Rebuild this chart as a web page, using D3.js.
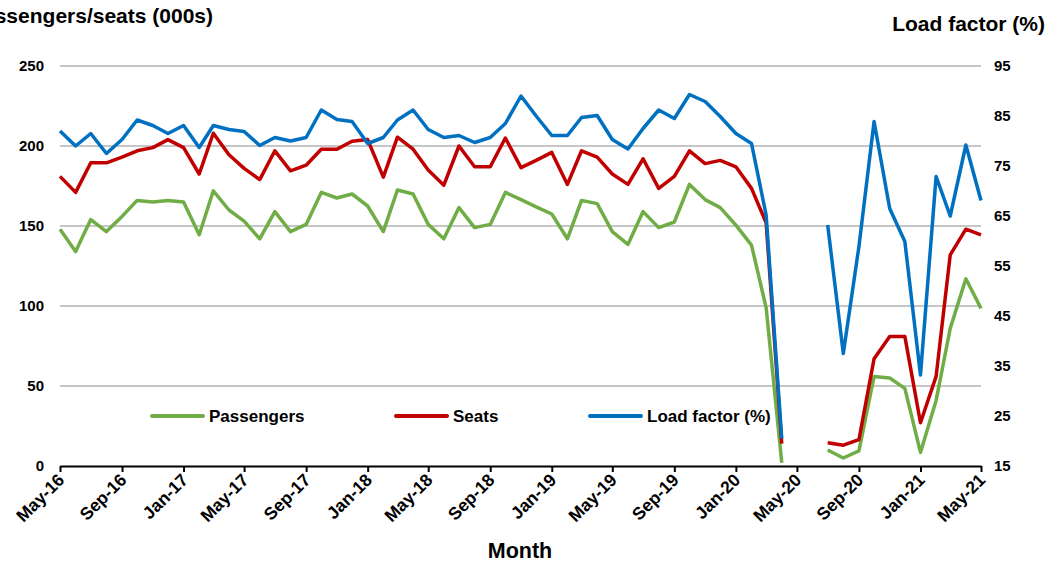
<!DOCTYPE html>
<html><head><meta charset="utf-8">
<script src="https://cdn.jsdelivr.net/npm/d3@7"></script>
<style>
body{margin:0;background:#fff;}
svg{display:block;font-family:"Liberation Sans",Arial,sans-serif;font-weight:bold;}
</style></head>
<body><svg id="c" width="1051" height="564"></svg>
<script>
// ---- data (May-16 .. May-21, monthly; null = no data) ----
const startMonth = "2016-05";
const endMonth = "2021-05";
const passengers = [148,134,154,146.5,156,166,165,166,165,144.5,172,160,153,142,159,146.5,151,171,167.5,170,
  162.5,146.5,172.5,170,151,142,161.5,149,151,171,166.5,162,157.5,142,166,164,146.5,138.5,159,149,
  152.5,176,166.5,161.5,150.5,138,99,2,null,null,10,5,9.5,56,55,48.5,8.5,41,86,117,98.5];
const seats = [181,171,189.5,189.5,193,197,199,204,199,182.5,208,194.5,186,179,197,184.5,188,198,198,203,
  204,180.5,205.5,198,185,175.5,200,187,187,205,186.5,191,196,176,197,193,182.5,176,192,173.5,
  181,197,189,191,187,173.5,152,14,null,null,14.5,13,16.5,67,81,81,27,56,132,148,144.5];
const loadFactor = [82,79,81.5,77.5,80.3,84.2,83.1,81.5,83.1,78.7,83.1,82.3,81.9,79.1,80.7,80,80.7,86.2,84.3,83.9,
  79.5,80.7,84.2,86.2,82.3,80.7,81.1,79.7,80.7,83.5,89,85,81.1,81.1,84.7,85.1,80.3,78.4,82.5,86.2,
  84.5,89.3,87.9,84.9,81.5,79.5,65.2,20.5,null,null,63.2,37.5,58.9,83.9,66.5,59.9,33.2,72.9,65,79.2,68.1];
const leftTicks = [0,50,100,150,200,250];
const rightTicks = [15,25,35,45,55,65,75,85,95];
const seriesNames = ["Passengers","Seats","Load factor (%)"];
const seriesColors = ["#70ad47","#c00000","#0070c0"];

// ---- layout ----
const L = 60, R = 981, T = 66, B = 466;
const svg = d3.select("#c");
const parse = d3.timeParse("%Y-%m");
const t0 = parse(startMonth), t1 = parse(endMonth);
const months = d3.timeMonth.range(t0, d3.timeMonth.offset(t1, 1));

const x = d3.scaleTime().domain([t0, t1]).range([L, R]);
const yL = d3.scaleLinear().domain([0, 250]).range([B, T]);
const yR = d3.scaleLinear().domain([15, 95]).range([B, T]);

// gridlines
svg.append("g").selectAll("line").data(leftTicks.filter(d => d > 0)).join("line")
  .attr("x1", L).attr("x2", R).attr("y1", d => yL(d)).attr("y2", d => yL(d))
  .attr("stroke", "#c6c6c6").attr("stroke-width", 2);

// left axis labels
svg.append("g").selectAll("text").data(leftTicks).join("text")
  .attr("x", 44).attr("y", d => yL(d)).attr("dy", "0.36em")
  .attr("text-anchor", "end").attr("font-size", 15).text(d => d);

// right axis labels
svg.append("g").selectAll("text").data(rightTicks).join("text")
  .attr("x", 994).attr("y", d => yR(d)).attr("dy", "0.36em")
  .attr("text-anchor", "start").attr("font-size", 15).text(d => d);

// x axis
const xAxis = d3.axisBottom(x).ticks(d3.timeMonth.every(4)).tickFormat(d3.timeFormat("%b-%y"))
  .tickSize(6).tickSizeOuter(0);
const gx = svg.append("g").attr("transform", `translate(0,${B})`).call(xAxis);
gx.select(".domain").attr("stroke", "#000").attr("stroke-width", 2);
gx.selectAll(".tick line").attr("stroke", "#000").attr("stroke-width", 2);
gx.selectAll(".tick text").attr("font-size", 17.5).attr("font-weight", "bold").attr("fill", "#000")
  .attr("font-family", '"Liberation Sans",Arial,sans-serif')
  .attr("text-anchor", "end").attr("dy", null).attr("y", 0)
  .attr("transform", "translate(5,15) rotate(-45)");

// lines
const series = [passengers, seats, loadFactor];
const scales = [yL, yL, yR];
series.forEach((vals, k) => {
  const line = d3.line().defined(d => d != null)
    .x((d, i) => x(months[i])).y(d => scales[k](d));
  svg.append("path").datum(vals).attr("d", line)
    .attr("fill", "none").attr("stroke", seriesColors[k]).attr("stroke-width", 3.5)
    .attr("stroke-linejoin", "round");
});

// legend
const legX = [152, 396, 590];
const leg = svg.append("g");
seriesNames.forEach((n, k) => {
  leg.append("line").attr("x1", legX[k]).attr("x2", legX[k] + 51).attr("y1", 416).attr("y2", 416)
    .attr("stroke", seriesColors[k]).attr("stroke-width", 4).attr("stroke-linecap", "round");
  leg.append("text").attr("x", legX[k] + 57).attr("y", 416).attr("dy", "0.36em")
    .attr("font-size", 17).text(n);
});

// titles
svg.append("text").attr("x", 213).attr("y", 23).attr("text-anchor", "end")
  .attr("font-size", 21).text("Passengers/seats (000s)");
svg.append("text").attr("x", 1045).attr("y", 31).attr("text-anchor", "end")
  .attr("font-size", 21).text("Load factor (%)");
svg.append("text").attr("x", 520).attr("y", 558).attr("text-anchor", "middle")
  .attr("font-size", 21.5).text("Month");
</script></body></html>
